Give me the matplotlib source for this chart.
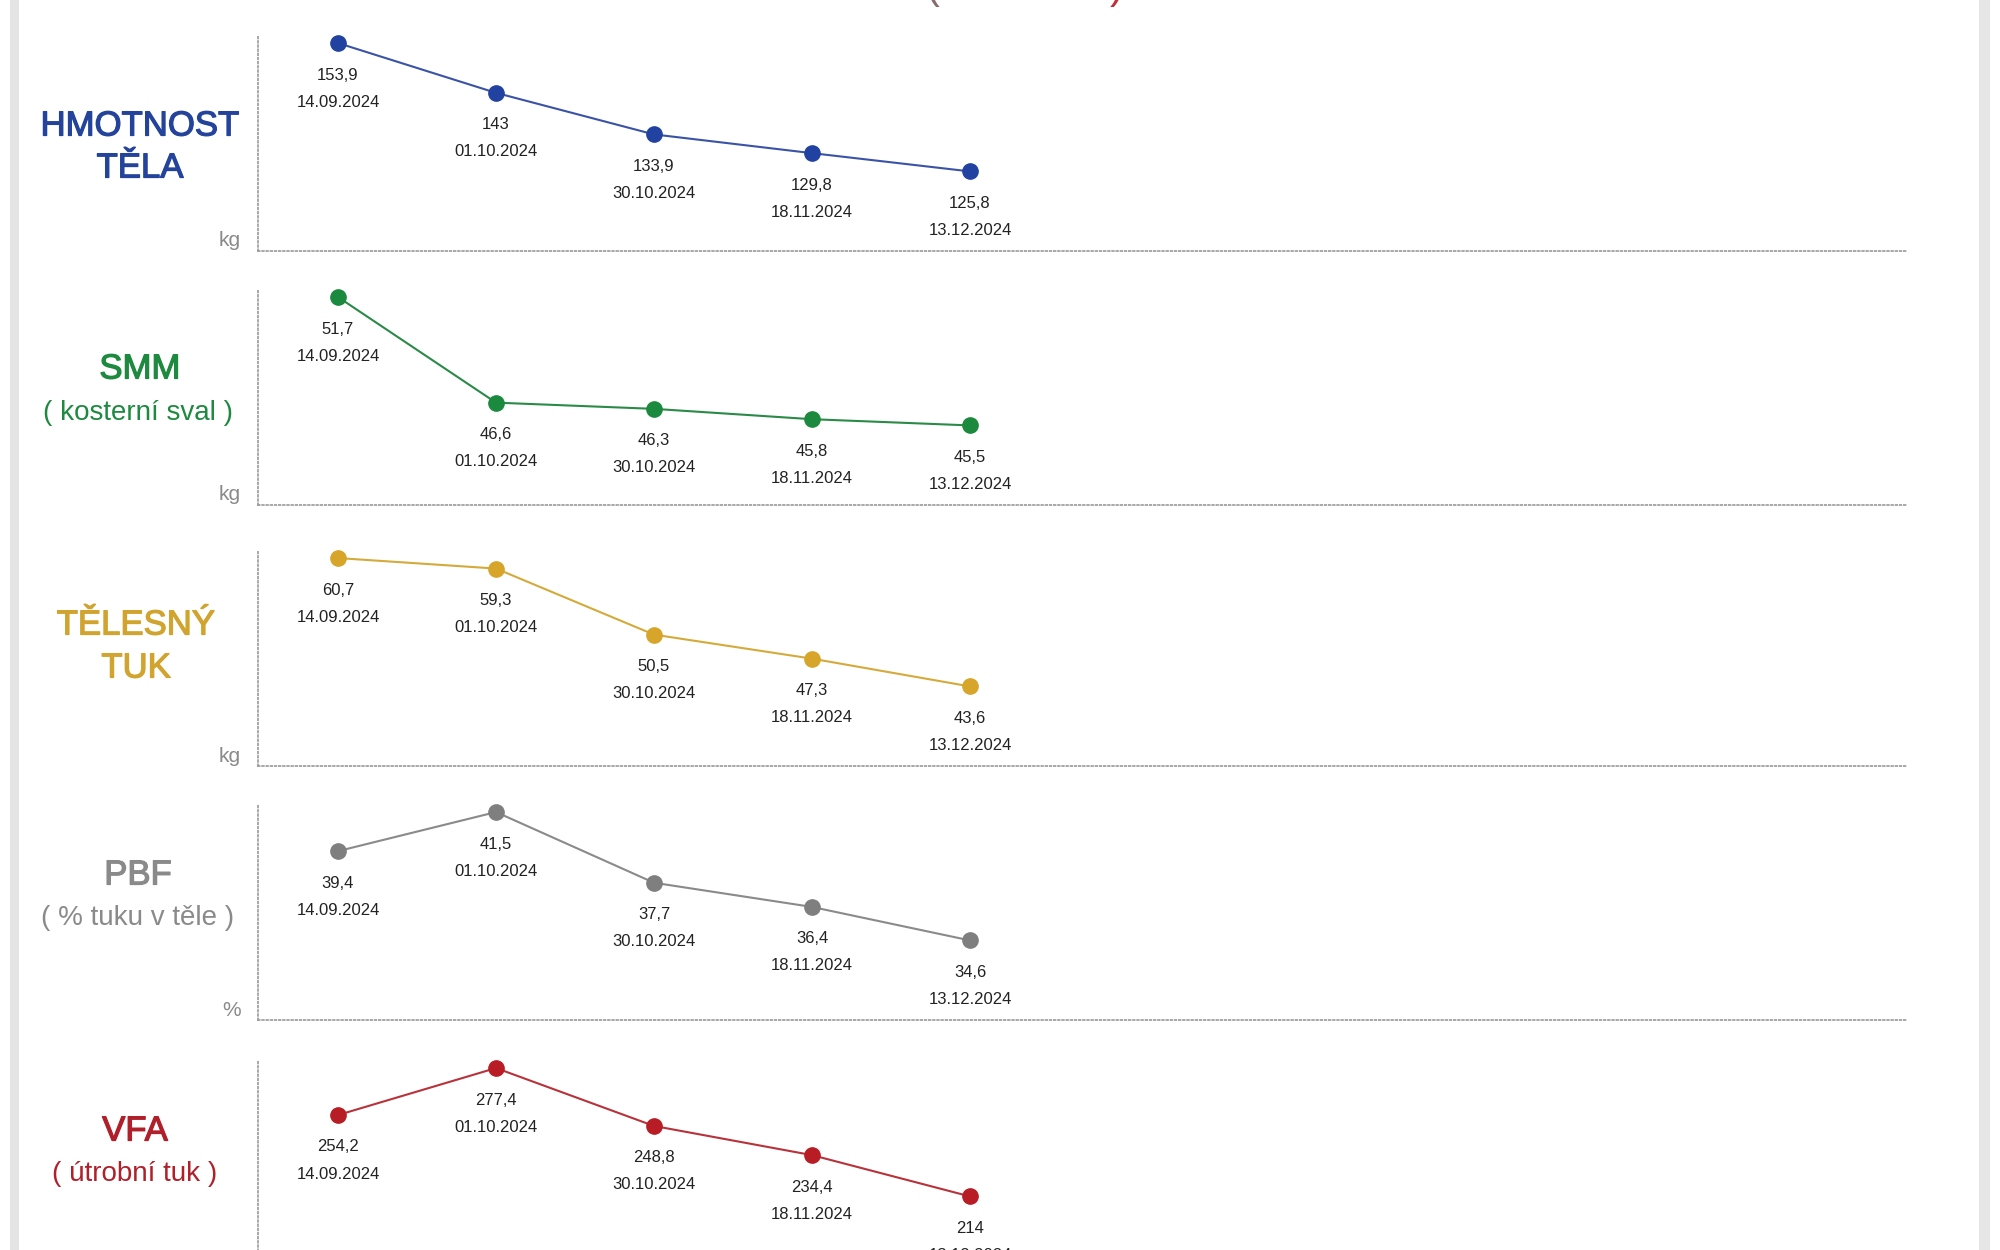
import matplotlib
matplotlib.use("Agg")
import matplotlib.pyplot as plt
from matplotlib.patches import Rectangle
import matplotlib.patheffects as pe

plt.rcParams['font.family'] = ['Liberation Sans', 'DejaVu Sans']

dates = ["14.09.2024", "01.10.2024", "30.10.2024", "18.11.2024", "13.12.2024"]

hmotnost = [153.9, 143.0, 133.9, 129.8, 125.8]
smm = [51.7, 46.6, 46.3, 45.8, 45.5]
tuk = [60.7, 59.3, 50.5, 47.3, 43.6]
pbf = [39.4, 41.5, 37.7, 36.4, 34.6]
vfa = [254.2, 277.4, 248.8, 234.4, 214.0]

value_labels = [
    ["153,9", "143", "133,9", "129,8", "125,8"],
    ["51,7", "46,6", "46,3", "45,8", "45,5"],
    ["60,7", "59,3", "50,5", "47,3", "43,6"],
    ["39,4", "41,5", "37,7", "36,4", "34,6"],
    ["254,2", "277,4", "248,8", "234,4", "214"],
]

titles = [("HMOTNOST", "TĚLA"), ("SMM", "( kosterní sval )"), ("TĚLESNÝ", "TUK"),
          ("PBF", "( % tuku v těle )"), ("VFA", "( útrobní tuk )")]
units = ["kg", "kg", "kg", "%", ""]
series = [hmotnost, smm, tuk, pbf, vfa]

line_colors = ["#3a53a6", "#2a8a48", "#d4aa3a", "#8a8a8a", "#b8323a"]
marker_colors = ["#2142a0", "#1b8a3e", "#d6a52a", "#7f7f7f", "#b81c24"]
title_colors = ["#24449c", "#1e8a40", "#d0a42e", "#8a8a8a", "#b0202a"]

W, H = 2000, 1250
fig = plt.figure(figsize=(20, 12.5), dpi=100)
fig.patch.set_facecolor("white")

# side bands of the screenshot frame
fig.add_artist(Rectangle((10 / W, 0), 9 / W, 1, transform=fig.transFigure,
                         facecolor="#e4e4e4", edgecolor="none"))
fig.add_artist(Rectangle((1979 / W, 0), 11 / W, 1, transform=fig.transFigure,
                         facecolor="#e6e6e6", edgecolor="none"))

# tails of the cut-off page heading
fig.text(932 / W, 1 - 7 / H, "(", ha="center", va="bottom", fontsize=30, color="#8a6a6a")
fig.text(1117 / W, 1 - 7 / H, ")", ha="center", va="bottom", fontsize=30, color="#c0303a")

panel_tops = [36, 290, 551, 805, 1061]
panel_h = 215
ax_left, ax_right = 258, 1906
x_first, x_step = 338, 158

title_pos = [
    ((140, 126), (140, 168), 25, 25),
    ((140, 369), (138, 413), 25, 20),
    ((136, 625), (136, 668), 25, 25),
    ((138, 875), (138, 918), 25, 20),
    ((135, 1131), (135, 1174), 25, 20),
]

for k in range(5):
    top = panel_tops[k]
    ax = fig.add_axes([ax_left / W, 1 - (top + panel_h) / H,
                       (ax_right - ax_left) / W, panel_h / H])
    vals = series[k]
    xs = list(range(len(vals)))
    vmax, vmin = max(vals), min(vals)
    rng = vmax - vmin
    ax.set_ylim(vmin - 0.62 * rng, vmax + 0.055 * rng)
    x0 = (ax_left - x_first) / x_step
    x1 = (ax_right - x_first) / x_step
    ax.set_xlim(x0, x1)
    ax.plot(xs, vals, color=line_colors[k], lw=1.5, zorder=2, clip_on=False)
    ax.plot(xs, vals, 'o', color=marker_colors[k], ms=11, zorder=3, clip_on=False)
    for i, v in enumerate(vals):
        ax.annotate(value_labels[k][i], (i, v), xytext=(0, -23), textcoords="offset points",
                    ha="center", va="center", fontsize=12, color="#222222",
                    annotation_clip=False)
        ax.annotate(dates[i], (i, v), xytext=(0, -42.5), textcoords="offset points",
                    ha="center", va="center", fontsize=12, color="#222222",
                    annotation_clip=False)
    for s in ["top", "right"]:
        ax.spines[s].set_visible(False)
    for s in ["left", "bottom"]:
        ax.spines[s].set_linestyle((0, (1, 1.5)))
        ax.spines[s].set_color("#9a9a9a")
        ax.spines[s].set_linewidth(1.2)
    ax.set_xticks([])
    ax.set_yticks([])
    ax.patch.set_alpha(0)
    if units[k]:
        fig.text(241 / W, 1 - (top + panel_h - 10) / H, units[k], ha="right", va="center",
                 fontsize=15, color="#8a8a8a")
    (p1, p2, s1, s2) = title_pos[k]
    eff = [pe.withStroke(linewidth=0.9, foreground=title_colors[k])]
    fig.text(p1[0] / W, 1 - p1[1] / H, titles[k][0], ha="center", va="center",
             fontsize=s1, color=title_colors[k], path_effects=eff)
    fig.text(p2[0] / W, 1 - p2[1] / H, titles[k][1], ha="center", va="center",
             fontsize=s2, color=title_colors[k],
             path_effects=eff if s2 == s1 else None)

fig.savefig("out.png", dpi=100, facecolor="white")
